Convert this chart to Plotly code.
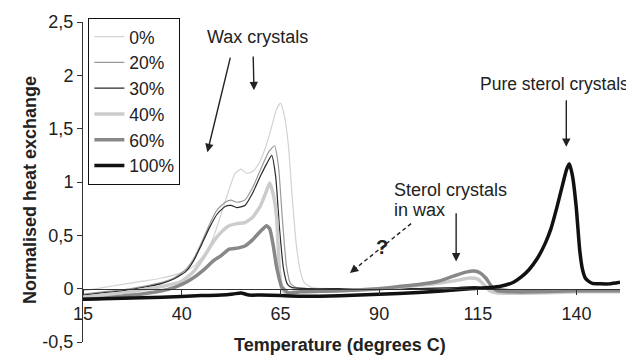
import plotly.graph_objects as go

# ---------------- data ----------------
series_names = ["0%", "20%", "30%", "40%", "60%", "100%"]

x_0 = [15, 20, 25, 30, 35, 40, 43, 46, 48, 50, 52, 53.5, 55, 56.5, 58, 59.5, 61, 62.5, 64, 65, 66, 67, 68, 69, 70, 71, 73, 80, 90, 100, 110, 120, 130, 140, 151]
y_0 = [-0.02, 0.01, 0.04, 0.07, 0.10, 0.15, 0.21, 0.33, 0.48, 0.70, 0.93, 1.08, 1.12, 1.08, 1.10, 1.17, 1.30, 1.48, 1.68, 1.74, 1.62, 1.35, 0.85, 0.42, 0.17, 0.06, 0.01, 0.0, 0.0, 0.0, 0.0, -0.01, -0.02, -0.02, -0.02]

x_20 = [15, 20, 25, 30, 35, 38, 41, 43, 45, 47, 49, 51, 52.5, 54, 56, 58, 60, 62, 63.5, 64.5, 65.5, 66.5, 67.5, 69, 72, 80, 90, 100, 110, 114, 118, 125, 140, 151]
y_20 = [-0.05, -0.03, -0.01, 0.02, 0.06, 0.10, 0.18, 0.28, 0.43, 0.60, 0.74, 0.81, 0.83, 0.81, 0.83, 0.95, 1.12, 1.28, 1.34, 1.15, 0.65, 0.22, 0.05, 0.01, 0.0, 0.0, 0.0, 0.0, 0.01, 0.02, 0.0, -0.01, -0.01, -0.01]

x_30 = [15, 20, 25, 30, 35, 38, 41, 43, 45, 47, 49, 51, 52.5, 54, 56, 58, 60, 61.5, 62.8, 63.8, 64.8, 65.8, 66.8, 68, 72, 80, 90, 100, 110, 114, 118, 125, 140, 151]
y_30 = [-0.06, -0.04, -0.02, 0.01, 0.05, 0.09, 0.16, 0.26, 0.41, 0.57, 0.70, 0.77, 0.78, 0.76, 0.78, 0.90, 1.06, 1.17, 1.25, 1.05, 0.55, 0.18, 0.04, 0.01, 0.0, 0.0, 0.0, 0.0, 0.01, 0.02, 0.0, -0.01, -0.01, -0.01]

x_40 = [15, 20, 25, 30, 35, 40, 43, 46, 48, 50, 52, 54, 56, 58, 60, 61.3, 62.3, 63.2, 64, 64.8, 65.4, 66.5, 70, 80, 90, 100, 105, 110, 113, 115, 116.5, 118, 120, 130, 140, 151]
y_40 = [-0.08, -0.06, -0.04, -0.01, 0.02, 0.07, 0.16, 0.32, 0.44, 0.53, 0.59, 0.61, 0.62, 0.67, 0.78, 0.90, 0.99, 0.88, 0.68, 0.15, -0.01, -0.04, -0.03, -0.02, 0.0, 0.03, 0.05, 0.08, 0.10, 0.09, 0.04, -0.02, -0.04, -0.04, -0.03, -0.03]

x_60 = [15, 20, 25, 30, 35, 38, 40, 42, 44, 46, 48, 50, 52, 54, 56, 58, 60, 61.5, 62.3, 63.2, 64, 65.3, 67, 70, 80, 90, 95, 100, 105, 109, 112, 114, 115.5, 117, 118.5, 120, 125, 140, 151]
y_60 = [-0.10, -0.09, -0.07, -0.05, -0.02, 0.01, 0.04, 0.08, 0.13, 0.19, 0.26, 0.31, 0.37, 0.38, 0.40, 0.46, 0.54, 0.59, 0.56, 0.40, 0.21, 0.02, -0.04, -0.03, -0.02, 0.0, 0.02, 0.04, 0.07, 0.12, 0.155, 0.165, 0.15, 0.10, 0.02, -0.02, -0.03, -0.02, -0.02]

x_100 = [15, 25, 35, 45, 50, 53, 55, 57, 60, 65, 70, 75, 85, 95, 105, 113, 118, 121, 124, 126, 128, 130, 132, 133.5, 135, 136.5, 137.5, 138.2, 139, 139.9, 140.8, 141.5, 142.2, 143, 144, 146, 148.3, 151]
y_100 = [-0.10, -0.09, -0.08, -0.065, -0.06, -0.05, -0.04, -0.06, -0.06, -0.065, -0.07, -0.07, -0.06, -0.045, -0.025, 0.0, 0.01, 0.025, 0.06, 0.11, 0.18, 0.28, 0.42, 0.56, 0.76, 0.98, 1.12, 1.17, 1.05, 0.77, 0.36, 0.18, 0.10, 0.07, 0.05, 0.045, 0.045, 0.06]

x_tick_vals = [15, 40, 65, 90, 115, 140]
y_tick_vals = [-0.5, 0, 0.5, 1, 1.5, 2, 2.5]
y_tick_text = ["-0,5", "0", "0,5", "1", "1,5", "2", "2,5"]

# ---------------- styles ----------------
xs = [x_0, x_20, x_30, x_40, x_60, x_100]
ys = [y_0, y_20, y_30, y_40, y_60, y_100]
colors = ["#d2d2d2", "#9a9a9a", "#2a2a2a", "#cccccc", "#888888", "#111111"]
widths = [1.2, 1.2, 1.2, 3.5, 3.5, 3.5]

FONT = "Liberation Sans, Arial, sans-serif"
TXT = "#222222"
FS = 18

fig = go.Figure()
for name, x, y, c, w in zip(series_names, xs, ys, colors, widths):
    fig.add_trace(go.Scatter(x=x, y=y, name=name, mode="lines",
                             line=dict(color=c, width=w, shape="spline", smoothing=0.5)))

ann = []
# text labels
ann.append(dict(x=59.1, y=2.36, xref="x", yref="y", text="Wax crystals", showarrow=False,
                font=dict(size=FS, color=TXT, family=FONT)))
ann.append(dict(x=134.3, y=1.92, xref="x", yref="y", text="Pure sterol crystals", showarrow=False,
                font=dict(size=17.5, color=TXT, family=FONT)))
ann.append(dict(x=93.3, y=0.925, xref="x", yref="y", text="Sterol crystals", showarrow=False,
                xanchor="left", font=dict(size=FS, color=TXT, family=FONT)))
ann.append(dict(x=93.3, y=0.738, xref="x", yref="y", text="in wax", showarrow=False,
                xanchor="left", font=dict(size=FS, color=TXT, family=FONT)))
ann.append(dict(x=90.8, y=0.39, xref="x", yref="y", text="<b>?</b>", showarrow=False,
                font=dict(size=20, color=TXT, family=FONT)))

# arrows (head at x,y ; tail at ax,ay)
arrows = [
    (46.5, 1.28, 52.4, 2.18),
    (58.3, 1.86, 58.1, 2.19),
    (137.4, 1.33, 137.4, 1.78),
    (109.5, 0.255, 109.5, 0.72),
]
for hx, hy, tx, ty in arrows:
    ann.append(dict(x=hx, y=hy, ax=tx, ay=ty, xref="x", yref="y", axref="x", ayref="y",
                    text="", showarrow=True, arrowhead=2, arrowsize=1.2, arrowwidth=1.4,
                    arrowcolor=TXT))
# dashed arrow: head only via annotation, body via dashed shape
ann.append(dict(x=82.6, y=0.147, ax=84.6, ay=0.207, xref="x", yref="y", axref="x", ayref="y",
                text="", showarrow=True, arrowhead=2, arrowsize=1.2, arrowwidth=1.4,
                arrowcolor=TXT))

# axis titles
ann.append(dict(x=0.478, y=-0.008, xref="paper", yref="paper", text="<b>Temperature (degrees C)</b>",
                showarrow=False, yanchor="middle", font=dict(size=18, color=TXT, family=FONT)))
ann.append(dict(x=-0.121, y=0.475, xref="paper", yref="paper", text="<b>Normalised heat exchange</b>",
                showarrow=False, textangle=-90, font=dict(size=18, color=TXT, family=FONT)))

shapes = [dict(type="line", xref="x", yref="y", x0=98.1, y0=0.61, x1=83.2, y1=0.165,
               line=dict(color=TXT, width=1.4, dash="4px,3px"))]

# page body has an 8px default margin; figure sized/margined to land on the same pixels
fig.update_layout(
    width=626, height=349,
    margin=dict(l=75, r=13.5, t=13.5, b=14.5, autoexpand=False),
    paper_bgcolor="white", plot_bgcolor="white",
    font=dict(family=FONT, size=FS, color=TXT),
    showlegend=True,
    legend=dict(x=0.01, y=1.013, xanchor="left", yanchor="top",
                bordercolor="#111111", borderwidth=1, bgcolor="white",
                font=dict(size=17.5, color=TXT, family=FONT), tracegroupgap=0,
                itemwidth=30),
    annotations=ann,
    shapes=shapes,
    xaxis=dict(range=[15, 151], anchor="free", position=1/6, showline=True, automargin=False,
               linecolor="#333333", linewidth=1, ticks="outside", ticklen=5,
               tickcolor="#333333", tickvals=x_tick_vals, showgrid=False, zeroline=False,
               tickfont=dict(size=FS, color=TXT, family=FONT), ticklabelstandoff=4),
    yaxis=dict(range=[-0.5, 2.5], showline=True, linecolor="#333333", linewidth=1, automargin=False,
               ticks="outside", ticklen=5, tickcolor="#333333", tickvals=y_tick_vals,
               ticktext=y_tick_text, showgrid=False, zeroline=False,
               tickfont=dict(size=FS, color=TXT, family=FONT), ticklabelstandoff=0),
)

fig.write_html("out.html")
